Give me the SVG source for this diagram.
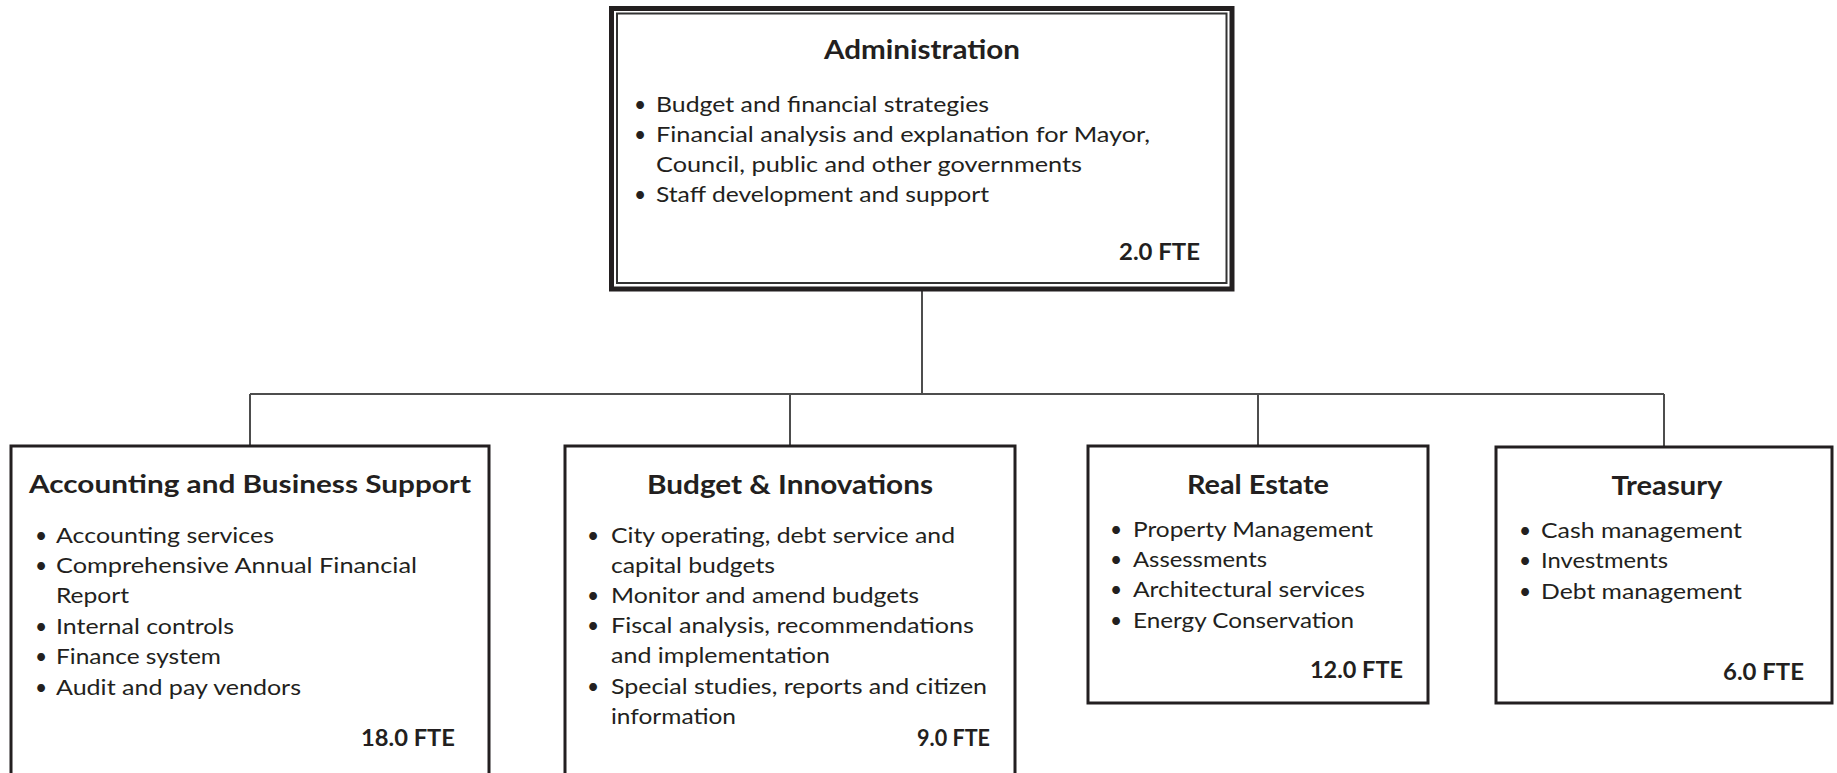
<svg xmlns="http://www.w3.org/2000/svg" width="1837" height="773" viewBox="0 0 1837 773">
<style>
text { font-family: Lato, "Open Sans", "Liberation Sans", sans-serif; fill: #231f20; }
.t { font-weight: bold; text-anchor: middle; }
.b { font-size: 21px; }
.d { font-size: 21px; text-anchor: middle; }
.f { font-weight: bold; font-size: 23px; text-anchor: end; }
.box { fill: #ffffff; stroke: #231f20; stroke-width: 3; }
.conn { fill: none; stroke: #4d4d4d; stroke-width: 2; }
</style>
<rect width="1837" height="773" fill="#ffffff"/>
<g id="connectors">
  <path class="conn" d="M922 290 V394 M250 394 H1664 M250 394 V446 M790 394 V446 M1258 394 V446 M1664 394 V447"/>
</g>
<g id="administration">
  <rect x="611.5" y="8.5" width="620.5" height="280.5" fill="#ffffff" stroke="#231f20" stroke-width="5"/>
  <rect x="617" y="13.5" width="609.5" height="269.5" fill="none" stroke="#333333" stroke-width="2"/>
  <text class="t" x="922" y="59" font-size="27" textLength="196" lengthAdjust="spacingAndGlyphs">Administration</text>
  <text class="d" x="640" y="112">•</text>
  <text class="b" x="656" y="112" textLength="333" lengthAdjust="spacingAndGlyphs">Budget and financial strategies</text>
  <text class="d" x="640" y="142">•</text>
  <text class="b" x="656" y="142" textLength="494" lengthAdjust="spacingAndGlyphs">Financial analysis and explanation for Mayor,</text>
  <text class="b" x="656" y="172" textLength="426" lengthAdjust="spacingAndGlyphs">Council, public and other governments</text>
  <text class="d" x="640" y="202">•</text>
  <text class="b" x="656" y="202" textLength="333" lengthAdjust="spacingAndGlyphs">Staff development and support</text>
  <text class="f" x="1200" y="260" textLength="81" lengthAdjust="spacingAndGlyphs">2.0 FTE</text>
</g>
<g id="accounting">
  <rect class="box" x="11" y="446" width="478" height="340"/>
  <text class="t" x="250" y="493" font-size="24" textLength="442" lengthAdjust="spacingAndGlyphs">Accounting and Business Support</text>
  <text class="d" x="41" y="543">•</text>
  <text class="b" x="56" y="543" textLength="218" lengthAdjust="spacingAndGlyphs">Accounting services</text>
  <text class="d" x="41" y="573">•</text>
  <text class="b" x="56" y="573" textLength="361" lengthAdjust="spacingAndGlyphs">Comprehensive Annual Financial</text>
  <text class="b" x="56" y="603" textLength="73" lengthAdjust="spacingAndGlyphs">Report</text>
  <text class="d" x="41" y="634">•</text>
  <text class="b" x="56" y="634" textLength="178" lengthAdjust="spacingAndGlyphs">Internal controls</text>
  <text class="d" x="41" y="664">•</text>
  <text class="b" x="56" y="664" textLength="165" lengthAdjust="spacingAndGlyphs">Finance system</text>
  <text class="d" x="41" y="695">•</text>
  <text class="b" x="56" y="695" textLength="245" lengthAdjust="spacingAndGlyphs">Audit and pay vendors</text>
  <text class="f" x="455" y="746" textLength="94" lengthAdjust="spacingAndGlyphs">18.0 FTE</text>
</g>
<g id="budget">
  <rect class="box" x="565" y="446" width="450" height="340"/>
  <text class="t" x="790" y="494" font-size="27" textLength="286" lengthAdjust="spacingAndGlyphs">Budget &amp; Innovations</text>
  <text class="d" x="593" y="543">•</text>
  <text class="b" x="611" y="543" textLength="344" lengthAdjust="spacingAndGlyphs">City operating, debt service and</text>
  <text class="b" x="611" y="573" textLength="164" lengthAdjust="spacingAndGlyphs">capital budgets</text>
  <text class="d" x="593" y="603">•</text>
  <text class="b" x="611" y="603" textLength="308" lengthAdjust="spacingAndGlyphs">Monitor and amend budgets</text>
  <text class="d" x="593" y="633">•</text>
  <text class="b" x="611" y="633" textLength="363" lengthAdjust="spacingAndGlyphs">Fiscal analysis, recommendations</text>
  <text class="b" x="611" y="663" textLength="219" lengthAdjust="spacingAndGlyphs">and implementation</text>
  <text class="d" x="593" y="694">•</text>
  <text class="b" x="611" y="694" textLength="376" lengthAdjust="spacingAndGlyphs">Special studies, reports and citizen</text>
  <text class="b" x="611" y="724" textLength="125" lengthAdjust="spacingAndGlyphs">information</text>
  <text class="f" x="990" y="746" textLength="73" lengthAdjust="spacingAndGlyphs">9.0 FTE</text>
</g>
<g id="real-estate">
  <rect class="box" x="1088" y="446" width="340" height="257"/>
  <text class="t" x="1258" y="494" font-size="26" textLength="142" lengthAdjust="spacingAndGlyphs">Real Estate</text>
  <text class="d" x="1116" y="537">•</text>
  <text class="b" x="1133" y="537" textLength="240" lengthAdjust="spacingAndGlyphs">Property Management</text>
  <text class="d" x="1116" y="567">•</text>
  <text class="b" x="1133" y="567" textLength="134" lengthAdjust="spacingAndGlyphs">Assessments</text>
  <text class="d" x="1116" y="597">•</text>
  <text class="b" x="1133" y="597" textLength="232" lengthAdjust="spacingAndGlyphs">Architectural services</text>
  <text class="d" x="1116" y="628">•</text>
  <text class="b" x="1133" y="628" textLength="221" lengthAdjust="spacingAndGlyphs">Energy Conservation</text>
  <text class="f" x="1403" y="678" textLength="93" lengthAdjust="spacingAndGlyphs">12.0 FTE</text>
</g>
<g id="treasury">
  <rect class="box" x="1496" y="447" width="336" height="256"/>
  <text class="t" x="1667" y="495" font-size="26" textLength="111" lengthAdjust="spacingAndGlyphs">Treasury</text>
  <text class="d" x="1525" y="538">•</text>
  <text class="b" x="1541" y="538" textLength="201" lengthAdjust="spacingAndGlyphs">Cash management</text>
  <text class="d" x="1525" y="568">•</text>
  <text class="b" x="1541" y="568" textLength="127" lengthAdjust="spacingAndGlyphs">Investments</text>
  <text class="d" x="1525" y="599">•</text>
  <text class="b" x="1541" y="599" textLength="201" lengthAdjust="spacingAndGlyphs">Debt management</text>
  <text class="f" x="1804" y="680" textLength="81" lengthAdjust="spacingAndGlyphs">6.0 FTE</text>
</g>
</svg>
